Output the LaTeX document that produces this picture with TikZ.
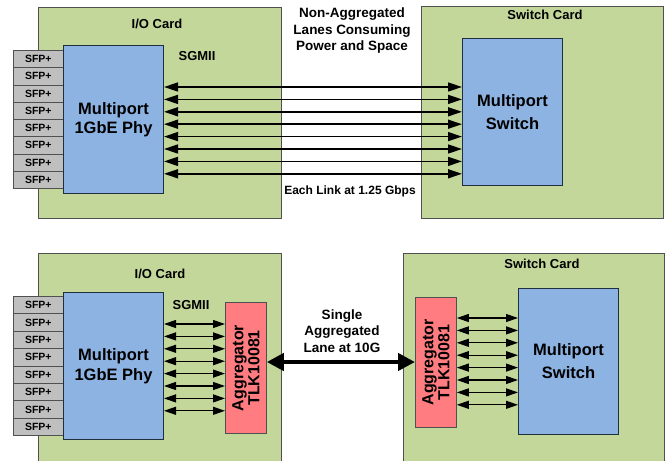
\documentclass[tikz,border=0pt]{standalone}
\usepackage{fontspec}
\setmainfont{Liberation Sans}
\usetikzlibrary{arrows.meta}
\definecolor{cardgreen}{HTML}{C4D79B}
\definecolor{cardline}{HTML}{505050}
\definecolor{phyblue}{HTML}{8DB3E2}
\definecolor{phyline}{HTML}{1F2F40}
\definecolor{aggred}{HTML}{FF7C80}
\definecolor{sfpgray}{HTML}{BFBFBF}
\begin{document}
\begin{tikzpicture}[x=1pt,y=-1pt,font=\bfseries,
  card/.style={draw=cardline,fill=cardgreen,line width=0.8pt,anchor=north west,inner sep=0pt},
  chip/.style={draw=phyline,fill=phyblue,line width=1pt,anchor=north west,inner sep=0pt,align=center},
  aggbox/.style={draw=cardline,fill=aggred,line width=0.8pt,anchor=north west,inner sep=0pt},
  sfpbox/.style={draw=cardline,fill=sfpgray,line width=0.7pt,anchor=north west,inner sep=0pt,
    minimum width=50pt,minimum height=17.3pt,font=\bfseries\fontsize{10.5}{12}\selectfont},
  lbl/.style={align=center,inner sep=0pt},
  bigarrow/.style={{Triangle[length=14pt,width=9pt]}-{Triangle[length=14pt,width=9pt]},line width=1.6pt},
  smallarrow/.style={{Triangle[length=12pt,width=8pt]}-{Triangle[length=12pt,width=8pt]},line width=1.2pt},
  fatarrow/.style={{Triangle[length=17pt,width=17pt]}-{Triangle[length=17pt,width=17pt]},line width=4.5pt}
]
\useasboundingbox (0,0) rectangle (665,461);

% ---------- top half ----------
\node[card,minimum width=243pt,minimum height=211pt] (io1) at (38,7) {};
\node[card,minimum width=242pt,minimum height=212pt] (swc1) at (421,6) {};
\foreach \i in {1,...,8}
  \node[sfpbox] (sfpa\i) at (13,{50+17.25*(\i-1)}) {SFP+};
\node[chip,minimum width=100pt,minimum height=148pt,font=\bfseries\fontsize{16.5}{19}\selectfont] (phy1) at (63,45) {Multiport\\1GbE Phy};
\node[chip,minimum width=100pt,minimum height=147pt,font=\bfseries\fontsize{16.5}{23}\selectfont] (sw1) at (462,38) {Multiport\\Switch};

\node[lbl,font=\bfseries\fontsize{13}{16}\selectfont] (io1lbl) at (157,24) {I/O Card};
\node[lbl,font=\bfseries\fontsize{13}{16}\selectfont] (sg1) at (197,56) {SGMII};
\node[lbl,font=\bfseries\fontsize{13}{16}\selectfont] (swc1lbl) at (545,15) {Switch Card};
\node[lbl,font=\bfseries\fontsize{13.5}{16.5}\selectfont] (nonagg) at (352,31) {Non-Aggregated\\Lanes Consuming\\Power and Space};
\node[lbl,font=\bfseries\fontsize{12}{14}\selectfont] (each) at (350,191) {Each Link at 1.25 Gbps};

\foreach \i in {0,...,7}{
  \pgfmathsetmacro\yy{87+12.4*\i}
  \draw[bigarrow] (phy1.east |- 0,\yy) -- (sw1.west |- 0,\yy);
}

% ---------- bottom half ----------
\node[card,minimum width=243pt,minimum height=220pt] (io2) at (38,253) {};
\node[card,minimum width=261pt,minimum height=220pt] (swc2) at (403,253) {};
\foreach \i in {1,...,8}
  \node[sfpbox] (sfpb\i) at (13,{296+17.4*(\i-1)}) {SFP+};
\node[chip,minimum width=100pt,minimum height=147pt,font=\bfseries\fontsize{16.5}{19.5}\selectfont] (phy2) at (63,292) {Multiport\\1GbE Phy};
\node[chip,minimum width=100pt,minimum height=146pt,font=\bfseries\fontsize{16.5}{23}\selectfont] (sw2) at (518,288) {Multiport\\Switch};

\node[aggbox,minimum width=41pt,minimum height=131pt] (agg1) at (225,302) {};
\node[aggbox,minimum width=41pt,minimum height=130pt] (agg2) at (415,297) {};
\node[lbl,rotate=90,font=\bfseries\fontsize{16}{16}\selectfont] (agg1txt) at (agg1.center) {Aggregator\\TLK10081};
\node[lbl,rotate=90,font=\bfseries\fontsize{16}{16}\selectfont] (agg2txt) at (agg2.center) {Aggregator\\TLK10081};

\node[lbl,font=\bfseries\fontsize{13}{16}\selectfont] (io2lbl) at (160,274) {I/O Card};
\node[lbl,font=\bfseries\fontsize{13}{16}\selectfont] (sg2) at (191,305) {SGMII};
\node[lbl,font=\bfseries\fontsize{13}{16}\selectfont] (swc2lbl) at (542,264) {Switch Card};
\node[lbl,font=\bfseries\fontsize{13.5}{16.5}\selectfont] (single) at (342,331) {Single\\Aggregated\\Lane at 10G};

\foreach \i in {0,...,7}{
  \pgfmathsetmacro\ya{324+12.4*\i}
  \pgfmathsetmacro\yb{318+12.4*\i}
  \draw[smallarrow] (phy2.east |- 0,\ya) -- (agg1.west |- 0,\ya);
  \draw[smallarrow] (agg2.east |- 0,\yb) -- (sw2.west |- 0,\yb);
}
\draw[fatarrow] (agg1.east |- 0,362) -- (agg2.west |- 0,362);
\end{tikzpicture}
\end{document}
